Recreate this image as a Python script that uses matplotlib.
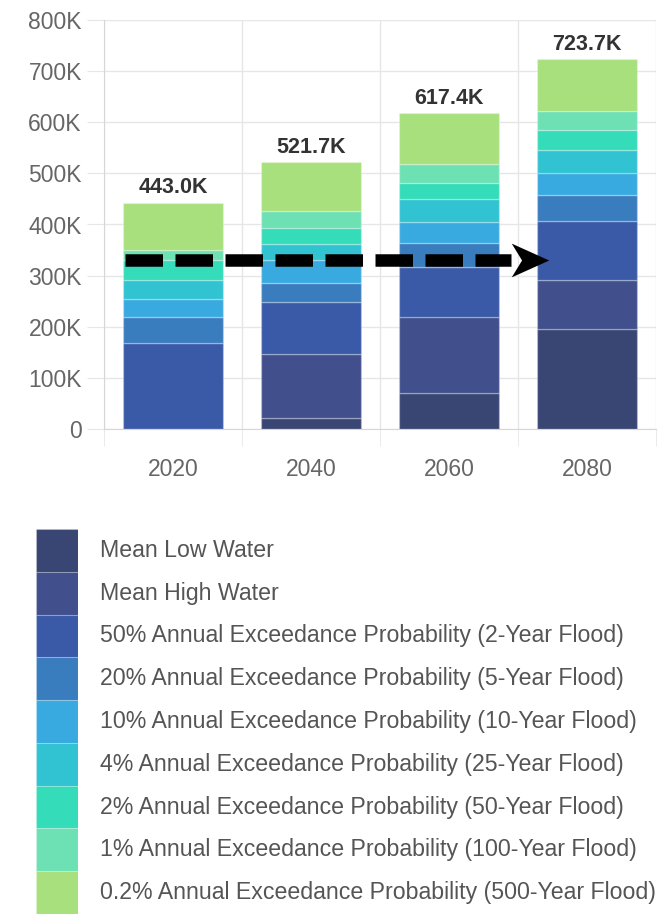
import numpy as np
import matplotlib
matplotlib.use("Agg")
import matplotlib.pyplot as plt
from matplotlib.path import Path
from matplotlib.ticker import FuncFormatter

plt.rcParams['font.family'] = ['Liberation Sans', 'DejaVu Sans']

years = ["2020", "2040", "2060", "2080"]
series = [
    "Mean Low Water",
    "Mean High Water",
    "50% Annual Exceedance Probability (2-Year Flood)",
    "20% Annual Exceedance Probability (5-Year Flood)",
    "10% Annual Exceedance Probability (10-Year Flood)",
    "4% Annual Exceedance Probability (25-Year Flood)",
    "2% Annual Exceedance Probability (50-Year Flood)",
    "1% Annual Exceedance Probability (100-Year Flood)",
    "0.2% Annual Exceedance Probability (500-Year Flood)",
]
colors = ["#394673", "#41508c", "#3a5aa8", "#3a7dbe", "#38aae0",
          "#32c3d2", "#34dcb9", "#6ee1b4", "#a8e07d"]

# people exposed per layer (bottom to top), one list per layer
mean_low = [0, 21000, 70000, 196000]
mean_high = [0, 126000, 149000, 95000]
aep_50 = [168000, 102000, 98000, 116000]
aep_20 = [52000, 37000, 46000, 50000]
aep_10 = [35000, 45000, 41000, 44000]
aep_4 = [36000, 30000, 45000, 44000]
aep_2 = [40000, 33000, 33000, 39000]
aep_1 = [19000, 33000, 36000, 38000]
aep_02 = [93000, 94700, 99400, 101700]
layers = [mean_low, mean_high, aep_50, aep_20, aep_10, aep_4, aep_2, aep_1, aep_02]

# dashed arrow level
arrow_y = 331000

fig = plt.figure(figsize=(6.69, 9.15), dpi=100)
ax = fig.add_axes([104 / 669, 1 - 429 / 915, (656 - 104) / 669, (429 - 20) / 915])

x = np.arange(len(years))
bottom = np.zeros(len(years))
for vals, c in zip(layers, colors):
    ax.bar(x, vals, bottom=bottom, width=0.72, color=c,
           edgecolor=(1, 1, 1, 0.25), linewidth=1, zorder=2)
    bottom += np.array(vals)

for xi, tot in zip(x, bottom):
    ax.annotate(f"{tot / 1000:.1f}K", (xi, tot), xytext=(0, 3),
                textcoords="offset points", ha="center", va="bottom",
                fontsize=15.5, fontweight="bold", color="#333333")

# dashed arrow across the bars
ax.plot([-0.35, 2.45], [arrow_y, arrow_y], color="black", lw=9,
        dashes=(3.0, 1.0), solid_capstyle="butt", dash_capstyle="butt", zorder=5)
head = Path([(1, 0), (-1, 0.9), (-0.45, 0), (-1, -0.9), (1, 0)],
            [Path.MOVETO, Path.LINETO, Path.LINETO, Path.LINETO, Path.CLOSEPOLY])
ax.plot([2.585], [arrow_y], marker=head, markersize=27, color="black",
        markeredgewidth=0, zorder=6)

ax.set_xlim(-0.5, 3.5)
ax.set_ylim(0, 800000)
ax.set_yticks(np.arange(0, 800001, 100000))
ax.yaxis.set_major_formatter(FuncFormatter(lambda v, p: "0" if v == 0 else f"{int(v / 1000)}K"))
ax.set_xticks(x)
ax.set_xticklabels(years)
ax.set_xticks(np.arange(-0.5, 3.6, 1), minor=True)

ax.grid(axis="y", color="#e6e6e6", lw=1, zorder=0)
ax.grid(axis="x", which="minor", color="#e6e6e6", lw=1, zorder=0)
ax.tick_params(axis="y", length=12, color="#e6e6e6", labelsize=16.5,
               labelcolor="#666666", pad=4)
ax.tick_params(axis="x", which="major", length=0, labelsize=16.5,
               labelcolor="#666666", pad=21)
ax.tick_params(axis="x", which="minor", length=12, color="#e6e6e6")
for s in ["top", "right"]:
    ax.spines[s].set_visible(False)
for s in ["left", "bottom"]:
    ax.spines[s].set_color("#d6d6d6")
ax.set_axisbelow(True)

# legend as a colour column with labels
lax = fig.add_axes([36 / 669, 1 - 914 / 915, (78 - 36) / 669, (914 - 529) / 915])
for i, c in enumerate(colors):
    lax.bar(0, 1, bottom=i, width=1, color=c, edgecolor=(1, 1, 1, 0.2), linewidth=0.8)
    lax.text(0.5 + 22 / 42, i + 0.5, series[i],
             ha="left", va="center", fontsize=16.7, color="#555555", clip_on=False)
lax.set_xlim(-0.5, 0.5)
lax.set_ylim(len(colors), 0)
lax.axis("off")

fig.savefig("out.png", dpi=100)
